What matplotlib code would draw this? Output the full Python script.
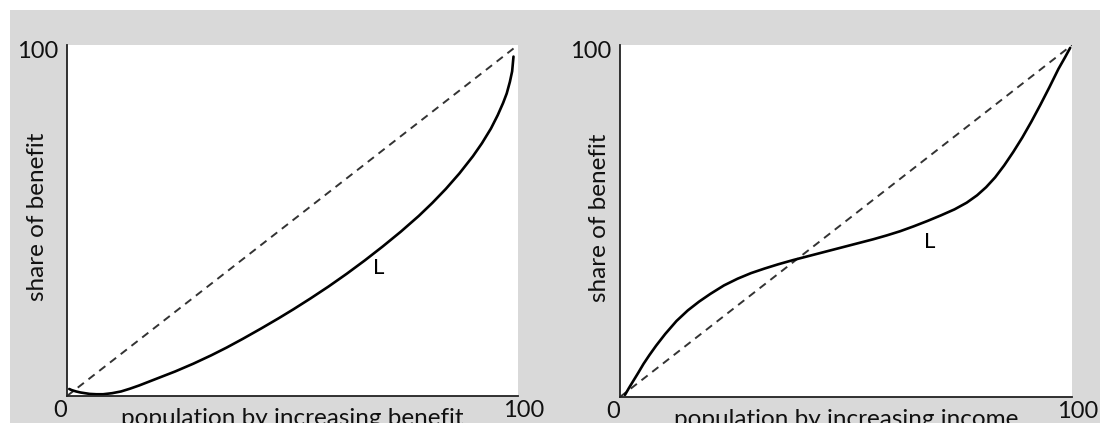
import numpy as np
import matplotlib
matplotlib.use("Agg")
import matplotlib.pyplot as plt
from matplotlib.patches import Rectangle
from matplotlib.transforms import ScaledTranslation

plt.rcParams['font.family'] = ['Lato', 'DejaVu Sans']

# left panel: L curve, share of benefit vs population ranked by benefit
benefit_x = [0.5, 1.0, 2.0, 3.0, 4.0, 5.0, 6.5, 8.0, 10.0, 12.0, 14.0, 16.0,
             18.0, 20.6, 24.0, 28.0, 32.0, 35.4, 39.0, 43.0, 47.0, 50.2, 54.0,
             58.0, 62.0, 66.0, 70.0, 74.0, 78.0, 81.0, 84.0, 87.0, 90.0, 92.0,
             94.0, 95.5, 96.7, 97.5, 98.2, 98.7, 99.0]
benefit_y = [2.0, 1.7, 1.3, 1.0, 0.8, 0.6, 0.5, 0.5, 0.8, 1.3, 2.1, 3.0,
             4.0, 5.3, 7.0, 9.2, 11.6, 13.8, 16.3, 19.2, 22.2, 24.7, 27.8,
             31.2, 34.8, 38.6, 42.6, 46.8, 51.3, 55.0, 59.0, 63.4, 68.3, 72.0,
             76.2, 80.0, 83.5, 86.2, 89.5, 92.5, 96.7]

# right panel: L curve, share of benefit vs population ranked by income
income_x = [1.1, 2.0, 3.0, 4.0, 5.2, 6.5, 8.0, 10.0, 12.5, 15.0, 17.5, 20.0,
            23.0, 26.0, 29.0, 32.0, 35.0, 38.3, 41.0, 44.0, 47.0, 50.0, 53.0,
            56.0, 59.0, 62.0, 65.0, 68.0, 71.0, 74.0, 76.7, 79.0, 81.0, 83.0,
            85.0, 87.0, 89.0, 91.0, 93.0, 95.0, 97.0, 98.5, 99.6]
income_y = [0.6, 2.6, 4.7, 6.8, 9.4, 11.9, 14.6, 17.9, 21.6, 24.6, 27.1, 29.3,
            31.7, 33.6, 35.2, 36.5, 37.7, 38.9, 39.8, 40.8, 41.8, 42.8, 43.8,
            44.8, 45.9, 47.1, 48.5, 50.0, 51.6, 53.3, 55.2, 57.3, 59.6, 62.4,
            65.8, 69.6, 73.7, 78.2, 83.0, 88.0, 93.2, 96.6, 99.2]

equality = [0, 100]

panels = [
    (benefit_x, benefit_y, "population by increasing benefit", (69, 36.5),
     [67, 27, 451, 351], -0.042),
    (income_x, income_y, "population by increasing income", (68.6, 44),
     [620, 26, 452, 352], -0.022),
]

W, H = 1100, 423
fig = plt.figure(figsize=(W / 100, H / 100), dpi=100, facecolor="white")
fig.patches.append(Rectangle((10 / W, 0), 1, 1 - 10 / H, transform=fig.transFigure,
                             facecolor="#d9d9d9", edgecolor="none", zorder=-10))

for xs, ys, xlab, lpos, box, ylab_x in panels:
    ax = fig.add_axes([box[0] / W, box[1] / H, box[2] / W, box[3] / H])
    ax.set_facecolor("white")
    ax.plot(equality, equality, color="#333333", lw=1.4, ls=(0, (4, 3)))
    ax.plot(xs, ys, color="black", lw=1.9, solid_capstyle="round",
            solid_joinstyle="round", clip_on=False)
    ax.text(lpos[0], lpos[1], "L", fontsize=16, ha="center", va="center")
    ax.set_xlim(0, 100)
    ax.set_ylim(0, 100)
    for s in ["top", "right"]:
        ax.spines[s].set_visible(False)
    for s in ["left", "bottom"]:
        ax.spines[s].set_color("#222222")
        ax.spines[s].set_linewidth(1.3)
    ax.set_xticks([0, 100])
    ax.set_xticklabels(["0", "100"])
    ax.set_yticks([100])
    ax.set_yticklabels(["100"])
    ax.tick_params(length=0, labelsize=17, colors="#111111")
    ax.tick_params(axis="x", pad=3)
    ax.tick_params(axis="y", pad=6)
    xl = ax.get_xticklabels()
    xl[0].set_transform(xl[0].get_transform() + ScaledTranslation(-0.07, 0, fig.dpi_scale_trans))
    xl[1].set_transform(xl[1].get_transform() + ScaledTranslation(0.06, 0, fig.dpi_scale_trans))
    for t in ax.get_yticklabels():
        t.set_transform(t.get_transform() + ScaledTranslation(0, -0.04, fig.dpi_scale_trans))
    ax.set_xlabel(xlab, fontsize=17.5, color="#111111")
    ax.xaxis.set_label_coords(0.5, -0.034)
    ax.set_ylabel("share of benefit", fontsize=17.5, color="#111111")
    ax.yaxis.set_label_coords(ylab_x, 0.51)

fig.savefig("out.png", dpi=100, facecolor=fig.get_facecolor())
